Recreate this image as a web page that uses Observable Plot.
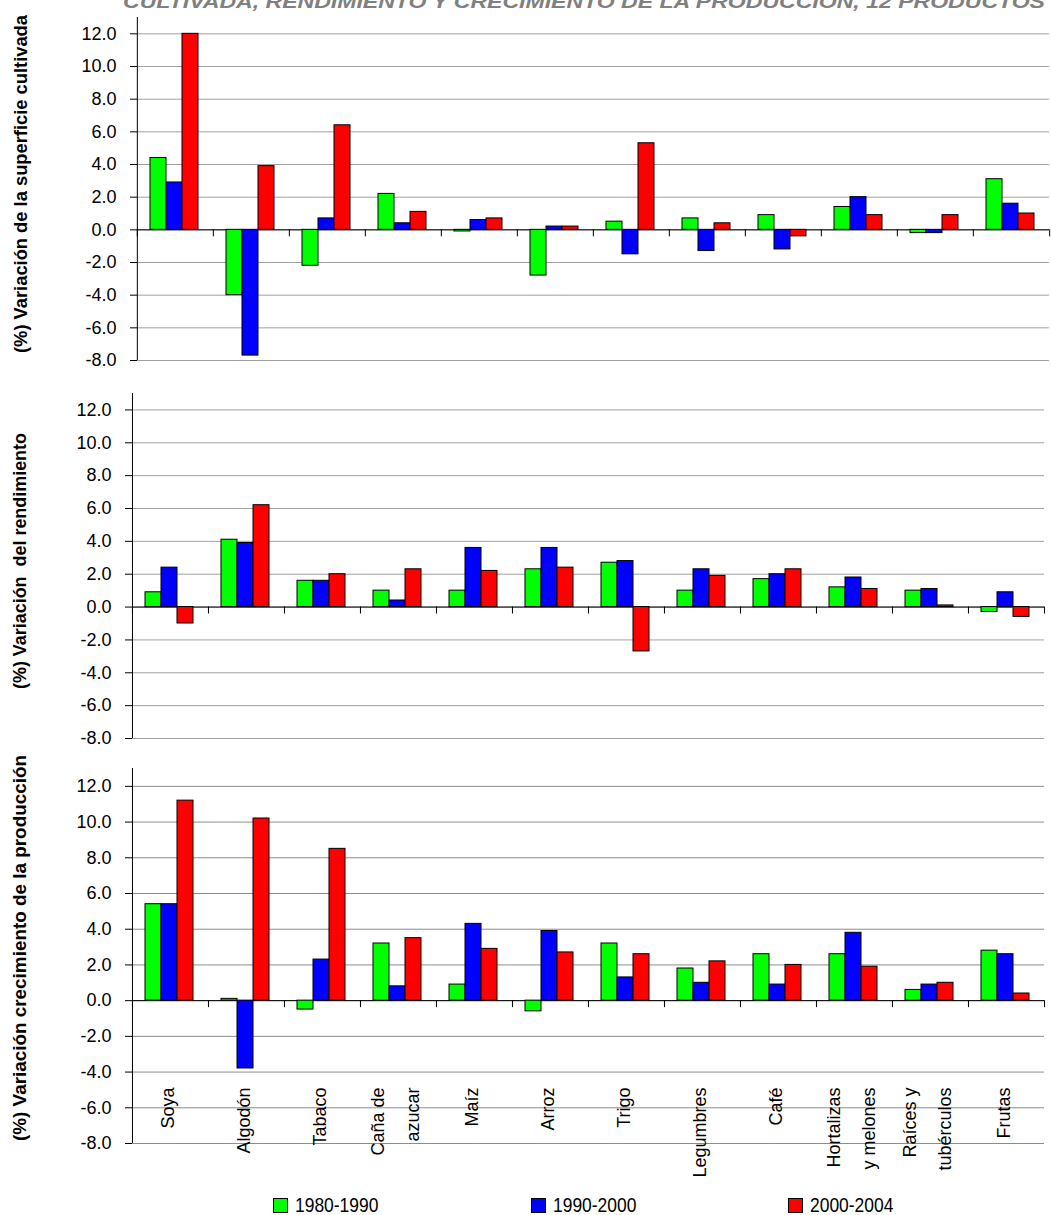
<!DOCTYPE html>
<html>
<head>
<meta charset="utf-8">
<script src="https://cdn.jsdelivr.net/npm/d3@7"></script>
<script src="https://cdn.jsdelivr.net/npm/@observablehq/plot@0.6"></script>
<style>
  body { margin: 0; background: #fff; }
  #wrap { position: relative; width: 1051px; height: 1215px; overflow: hidden; background: #fff;
          font-family: "Liberation Sans", Arial, sans-serif; }
  .panel { position: absolute; left: 0; }
  .panel svg { overflow: visible; }
  g[aria-label="y-axis label"] text {
    font-family: "Liberation Sans", Arial, sans-serif;
    font-weight: bold; font-size: 19px; white-space: pre;
  }
  #title { position: absolute; left: 0; top: 0; overflow: visible; }
  .legend-item { position: absolute; top: 1193px; display: flex; align-items: center; height: 24px;
    font-family: "Liberation Sans", Arial, sans-serif; font-size: 21px; color: #000; }
  .legend-item .sw { width: 13px; height: 13px; border: 1px solid #000; margin-right: 7px; }
  .legend-item span { display: inline-block; transform: scaleX(0.83); transform-origin: left center; }
</style>
</head>
<body>
<div id="wrap"></div>
<script>
const titleText = "CULTIVADA, RENDIMIENTO Y CRECIMIENTO DE LA PRODUCCIÓN, 12 PRODUCTOS";
const categories = ["Soya", "Algodón", "Tabaco", "Caña de\nazucar", "Maíz", "Arroz", "Trigo",
  "Legumbres", "Café", "Hortalizas\ny melones", "Raíces y\ntubérculos", "Frutas"];
const periods = ["1980-1990", "1990-2000", "2000-2004"];
const periodColors = ["#00ff00", "#0000ff", "#ff0000"];
const yTicks = [-8, -6, -4, -2, 0, 2, 4, 6, 8, 10, 12];

const superficie1980 = [4.4, -4.0, -2.2, 2.2, -0.1, -2.8, 0.5, 0.7, 0.9, 1.4, -0.2, 3.1];
const superficie1990 = [2.9, -7.7, 0.7, 0.4, 0.6, 0.2, -1.5, -1.3, -1.2, 2.0, -0.2, 1.6];
const superficie2000 = [12.0, 3.9, 6.4, 1.1, 0.7, 0.2, 5.3, 0.4, -0.4, 0.9, 0.9, 1.0];

const rendimiento1980 = [0.9, 4.1, 1.6, 1.0, 1.0, 2.3, 2.7, 1.0, 1.7, 1.2, 1.0, -0.3];
const rendimiento1990 = [2.4, 3.9, 1.6, 0.4, 3.6, 3.6, 2.8, 2.3, 2.0, 1.8, 1.1, 0.9];
const rendimiento2000 = [-1.0, 6.2, 2.0, 2.3, 2.2, 2.4, -2.7, 1.9, 2.3, 1.1, 0.1, -0.6];

const produccion1980 = [5.4, 0.1, -0.5, 3.2, 0.9, -0.6, 3.2, 1.8, 2.6, 2.6, 0.6, 2.8];
const produccion1990 = [5.4, -3.8, 2.3, 0.8, 4.3, 3.9, 1.3, 1.0, 0.9, 3.8, 0.9, 2.6];
const produccion2000 = [11.2, 10.2, 8.5, 3.5, 2.9, 2.7, 2.6, 2.2, 2.0, 1.9, 1.0, 0.4];

const panelLabels = [
  "(%) Variación de la superficie cultivada",
  "(%) Variación  del rendimiento",
  "(%) Variación crecimiento de la producción"
];

const wrap = document.getElementById("wrap");
const W = 1051;

function makePanel({series, label, labelLength, labelShift, gridColor, top, height, marginTop, marginBottom, marginLeft, marginRight, showLabels}) {
  const rows = [];
  categories.forEach((c, i) => periods.forEach((p, j) => rows.push({cat: c, period: p, value: series[j][i]})));
  const step = (W - marginLeft - marginRight) / categories.length;
  const marks = [
    Plot.gridY(yTicks, {stroke: gridColor, strokeOpacity: 1, strokeWidth: 1}),
    Plot.axisY({ticks: yTicks, tickFormat: d => d.toFixed(1), tickSize: 7, tickPadding: 14,
      label, labelAnchor: "center", labelOffset: marginLeft - 11, labelArrow: "none", stroke: "#000"}),
    Plot.ruleY([0], {stroke: "#000", strokeWidth: 1}),
    Plot.barY(rows, {fx: "cat", x: "period", y: "value", fill: "period", stroke: "#000", strokeWidth: 1}),
    // category separators on the zero line
    Plot.ruleX(categories, {fx: d => d, x: null, y1: 0, y2: 0, insetBottom: -7, dx: -step / 2, stroke: "#000"}),
    Plot.ruleX(categories.slice(-1), {fx: d => d, x: null, y1: 0, y2: 0, insetBottom: -7, dx: step / 2, stroke: "#000"}),
    // vertical axis line
    Plot.ruleX(categories.slice(0, 1), {fx: d => d, x: null, y1: -8, y2: 13, dx: -step / 2, stroke: "#000"})
  ];
  if (showLabels) {
    marks.push(Plot.text(categories, {fx: d => d, text: d => d, frameAnchor: "bottom", rotate: -90,
      textAnchor: "end", lineAnchor: "middle", lineHeight: 1.95, dy: -56, dx: -8, fontSize: 18, fill: "#000"}));
  }
  const svg = Plot.plot({
    width: W, height, marginTop, marginBottom, marginLeft, marginRight,
    style: {fontSize: "18px", fontFamily: "'Liberation Sans', Arial, sans-serif", background: "transparent", overflow: "visible", color: "#000"},
    fx: {domain: categories, padding: 0, axis: null},
    x: {domain: periods, paddingInner: 0, paddingOuter: 0.8, align: 0.45, axis: null},
    y: {domain: [-8, 13], axis: null},
    color: {domain: periods, range: periodColors},
    marks
  });
  const lab = svg.querySelector('g[aria-label="y-axis label"] text');
  if (lab) {
    lab.setAttribute("textLength", labelLength);
    lab.setAttribute("lengthAdjust", "spacingAndGlyphs");
    lab.setAttribute("dx", labelShift);
  }
  const div = document.createElement("div");
  div.className = "panel";
  div.style.top = top + "px";
  div.appendChild(svg);
  wrap.appendChild(div);
}

makePanel({series: [superficie1980, superficie1990, superficie2000], label: panelLabels[0],
  labelLength: 338, labelShift: 5, gridColor: "#a0a0a0",
  top: 0, height: 363, marginTop: 17, marginBottom: 3, marginLeft: 135, marginRight: 0});
makePanel({series: [rendimiento1980, rendimiento1990, rendimiento2000], label: panelLabels[1],
  labelLength: 256, labelShift: 5, gridColor: "#a0a0a0",
  top: 380, height: 361, marginTop: 13, marginBottom: 3, marginLeft: 131, marginRight: 7});
makePanel({series: [produccion1980, produccion1990, produccion2000], label: panelLabels[2],
  labelLength: 386, labelShift: 8, gridColor: "#8c8c8c",
  top: 760, height: 423, marginTop: 8, marginBottom: 40, marginLeft: 131, marginRight: 7, showLabels: true});

// title (cut at the top edge as in the source)
const ns = "http://www.w3.org/2000/svg";
const tsvg = document.createElementNS(ns, "svg");
tsvg.setAttribute("id", "title");
tsvg.setAttribute("width", W);
tsvg.setAttribute("height", 20);
const tt = document.createElementNS(ns, "text");
tt.setAttribute("x", 123);
tt.setAttribute("y", 7.5);
tt.setAttribute("textLength", 922);
tt.setAttribute("lengthAdjust", "spacingAndGlyphs");
tt.setAttribute("fill", "#808080");
tt.setAttribute("font-family", "'Liberation Sans', Arial, sans-serif");
tt.setAttribute("font-weight", "bold");
tt.setAttribute("font-style", "italic");
tt.setAttribute("font-size", "18");
tt.textContent = titleText;
tsvg.appendChild(tt);
wrap.appendChild(tsvg);

// legend
const legendLeft = [273, 531, 788];
periods.forEach((p, i) => {
  const item = document.createElement("div");
  item.className = "legend-item";
  item.style.left = legendLeft[i] + "px";
  const sw = document.createElement("div");
  sw.className = "sw";
  sw.style.background = periodColors[i];
  const lab = document.createElement("span");
  lab.textContent = p;
  item.appendChild(sw);
  item.appendChild(lab);
  wrap.appendChild(item);
});
</script>
</body>
</html>
